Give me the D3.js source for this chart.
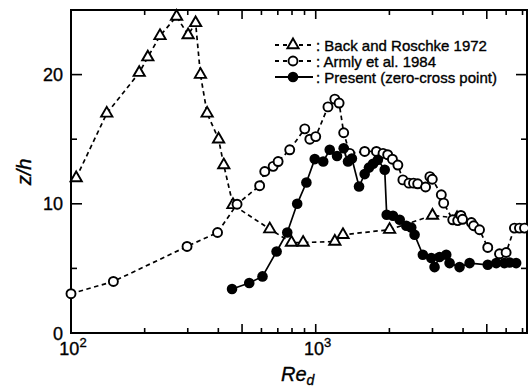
<!DOCTYPE html>
<html>
<head>
<meta charset="utf-8">
<script src="https://cdn.jsdelivr.net/npm/d3@7"></script>
<style>
  html, body { margin: 0; padding: 0; background: #fff; }
  svg { display: block; font-family: "Liberation Sans", Arial, Helvetica, sans-serif; }
  text { stroke: #000; stroke-width: 0.35px; }
</style>
</head>
<body>
<svg id="chart" width="528" height="390"></svg>
<script>
// Height of the zero-cross point z/h against Reynolds number Re_d
const backRe = [105, 140, 190, 206, 231, 270, 301, 323, 338, 360, 401, 421, 459, 649, 796, 888, 1197, 1292, 2004, 3000, 3780];
const backZ  = [12.0, 17.0, 20.15, 21.35, 23.0, 24.5, 23.07, 24.0, 20.0, 17.0, 15.0, 13.0, 9.92, 8.04, 7.0, 7.0, 7.08, 7.6, 8.0, 9.1, 8.9];

const armlyRe = [100, 149, 298, 397, 477, 590, 619, 670, 702, 783, 902, 946, 1000, 1122, 1197, 1246, 1301, 1377, 1585, 1770, 1884, 1968, 2058, 2166, 2271, 2404, 2510, 2610, 2811, 2928, 2995, 3260, 3333, 3630, 3803, 3920, 3980, 4326, 4420, 4670, 5046, 5637, 5998, 6486, 6800, 7130];
const armlyZ  = [3.04, 3.99, 6.7, 7.78, 9.97, 11.4, 12.5, 12.9, 13.27, 14.18, 15.8, 15.0, 15.2, 17.5, 18.1, 17.8, 15.5, 13.9, 14.05, 14.05, 13.9, 13.8, 13.45, 13.0, 11.85, 11.6, 11.6, 11.55, 11.3, 12.1, 11.9, 10.7, 10.05, 8.76, 8.7, 9.1, 8.8, 8.55, 8.3, 7.99, 6.62, 6.13, 6.23, 8.12, 8.12, 8.12];

const presentRe = [455, 535, 606, 692, 765, 840, 916, 991, 1073, 1141, 1222, 1301, 1355, 1405, 1503, 1585, 1650, 1715, 1795, 1914, 1950, 2069, 2204, 2344, 2456, 2535, 2740, 2966, 3059, 3206, 3415, 3523, 3870, 4253, 5046, 5465, 5900, 6200, 6590];
const presentZ  = [3.4, 3.87, 4.38, 6.31, 7.78, 10.0, 11.65, 13.46, 13.27, 14.18, 13.7, 14.3, 13.27, 13.5, 11.34, 12.3, 12.8, 13.1, 13.4, 12.63, 9.15, 9.07, 8.76, 8.3, 8.17, 7.6, 6.06, 5.8, 5.1, 5.88, 6.06, 5.41, 5.1, 5.41, 5.28, 5.41, 5.41, 5.46, 5.41];

const legendLabels = [": Back and Roschke 1972", ": Armly et al. 1984", ": Present (zero-cross point)"];
const yTickLabels = [0, 10, 20];
const xDecades = [100, 1000];

const svg = d3.select("#chart");
const plotL = 71, plotR = 527, plotT = 10, plotB = 333;

const x = d3.scaleLog().domain([100, 7300]).range([plotL, plotR]);
const y = d3.scaleLinear().domain([0, 25]).range([plotB, plotT]);

const zip = (a, b) => a.map((v, i) => [v, b[i]]);
const back = zip(backRe, backZ), armly = zip(armlyRe, armlyZ), present = zip(presentRe, presentZ);

const line = d3.line().x(d => x(d[0])).y(d => y(d[1]));

// frame
svg.append("rect").attr("x", plotL).attr("y", plotT)
  .attr("width", plotR - plotL).attr("height", plotB - plotT)
  .attr("fill", "none").attr("stroke", "#000").attr("stroke-width", 2);

// x ticks (inward, bottom and top)
const xTicks = [];
for (let dec = 100; dec <= 1000; dec *= 10) {
  for (let m = 1; m <= 9; m++) {
    const v = m * dec;
    if (v >= 100 && v <= 7300) xTicks.push({ v, len: (m === 1 || m === 5) ? 9 : 5 });
  }
}
const tickG = svg.append("g").attr("stroke", "#000").attr("stroke-width", 1.6);
xTicks.forEach(t => {
  tickG.append("line").attr("x1", x(t.v)).attr("x2", x(t.v)).attr("y1", plotB).attr("y2", plotB - t.len);
  tickG.append("line").attr("x1", x(t.v)).attr("x2", x(t.v)).attr("y1", plotT).attr("y2", plotT + t.len);
});
// y ticks (inward, left and right)
[0, 5, 10, 15, 20, 25].forEach(v => {
  const len = v % 10 === 0 ? 11 : 6;
  tickG.append("line").attr("x1", plotL).attr("x2", plotL + len).attr("y1", y(v)).attr("y2", y(v));
  tickG.append("line").attr("x1", plotR).attr("x2", plotR - len).attr("y1", y(v)).attr("y2", y(v));
});

// tick labels
svg.append("g").selectAll("text").data(yTickLabels).join("text")
  .attr("x", 63).attr("y", d => y(d) + 6.5)
  .attr("text-anchor", "end").attr("font-size", 18).text(d => d);

const xl = svg.append("g").selectAll("text").data(xDecades).join("text")
  .attr("x", d => x(d) + 2).attr("y", 355)
  .attr("text-anchor", "middle").attr("font-size", 18);
xl.append("tspan").text("10");
xl.append("tspan").attr("dy", -8).attr("font-size", 13).text(d => Math.round(Math.log10(d)));

// axis titles
const xt = svg.append("text").attr("x", 281).attr("y", 381)
  .attr("font-size", 20).attr("font-style", "italic");
xt.append("tspan").text("Re");
xt.append("tspan").attr("dy", 4).attr("font-size", 14).text("d");

svg.append("text").attr("transform", "translate(31,172) rotate(-90)")
  .attr("text-anchor", "middle").attr("font-size", 20).attr("font-style", "italic").text("z/h");

// series
const dash = "4.5,3.5";
svg.append("path").datum(back).attr("d", line)
  .attr("fill", "none").attr("stroke", "#000").attr("stroke-width", 1.7).attr("stroke-dasharray", dash);
svg.append("path").datum(armly).attr("d", line)
  .attr("fill", "none").attr("stroke", "#000").attr("stroke-width", 1.7).attr("stroke-dasharray", dash);
svg.append("path").datum(present).attr("d", line)
  .attr("fill", "none").attr("stroke", "#000").attr("stroke-width", 1.7);

const tri = d3.symbol().type(d3.symbolTriangle).size(55);
svg.append("g").selectAll("path").data(back).join("path")
  .attr("transform", d => `translate(${x(d[0])},${y(d[1])})`)
  .attr("d", tri).attr("fill", "#fff").attr("stroke", "#000").attr("stroke-width", 1.9);

svg.append("g").selectAll("circle").data(armly).join("circle")
  .attr("cx", d => x(d[0])).attr("cy", d => y(d[1])).attr("r", 4.5)
  .attr("fill", "#fff").attr("stroke", "#000").attr("stroke-width", 1.9);

svg.append("g").selectAll("circle").data(present).join("circle")
  .attr("cx", d => x(d[0])).attr("cy", d => y(d[1])).attr("r", 5.3)
  .attr("fill", "#000");

// legend
const legY = [45, 61, 77];
const lg = svg.append("g");
legY.forEach((ly, i) => {
  lg.append("line").attr("x1", 275).attr("x2", 313).attr("y1", ly).attr("y2", ly)
    .attr("stroke", "#000").attr("stroke-width", 1.8)
    .attr("stroke-dasharray", i < 2 ? "4,4" : null);
  if (i === 0) {
    lg.append("path").attr("transform", `translate(293,${ly})`).attr("d", tri)
      .attr("fill", "#fff").attr("stroke", "#000").attr("stroke-width", 1.9);
  } else if (i === 1) {
    lg.append("circle").attr("cx", 293).attr("cy", ly).attr("r", 4.5)
      .attr("fill", "#fff").attr("stroke", "#000").attr("stroke-width", 1.9);
  } else {
    lg.append("circle").attr("cx", 293).attr("cy", ly).attr("r", 5.3).attr("fill", "#000");
  }
  lg.append("text").attr("x", 316).attr("y", ly + 5.5).attr("font-size", 15).text(legendLabels[i]);
});
</script>
</body>
</html>
